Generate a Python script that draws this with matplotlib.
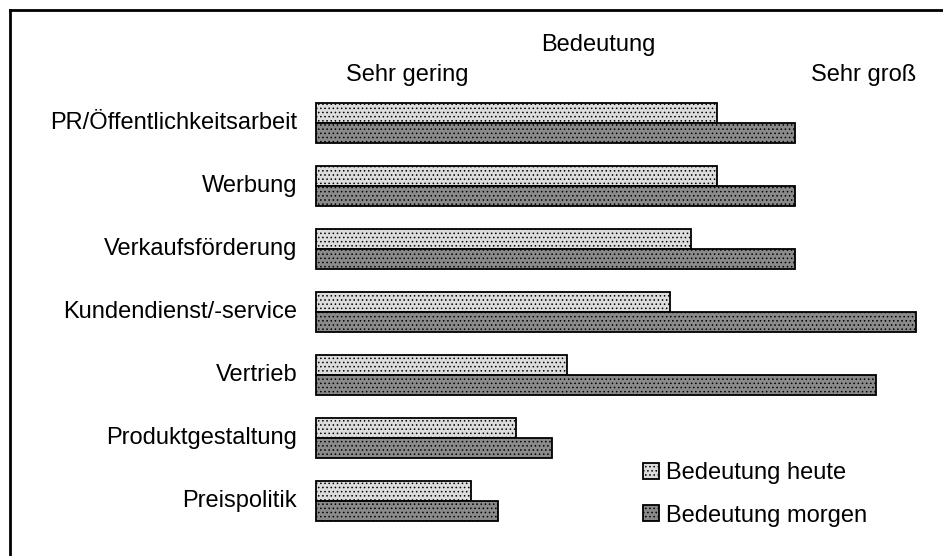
import matplotlib
matplotlib.use("Agg")
import matplotlib.pyplot as plt
import numpy as np
from matplotlib.lines import Line2D
from matplotlib.transforms import ScaledTranslation

plt.rcParams['font.family'] = ['Liberation Sans', 'DejaVu Sans']
plt.rcParams['hatch.color'] = '#a8a8a8'
plt.rcParams['hatch.linewidth'] = 0.6

categories = ["PR/Öffentlichkeitsarbeit", "Werbung", "Verkaufsförderung",
              "Kundendienst/-service", "Vertrieb", "Produktgestaltung", "Preispolitik"]
heute = [3.67, 3.67, 3.50, 3.36, 2.67, 2.33, 2.03]
morgen = [4.19, 4.19, 4.19, 5.00, 4.73, 2.57, 2.21]
series_labels = ["Bedeutung heute", "Bedeutung morgen"]
scale_min, scale_max = 1, 5

FS = 17
W, H = 943, 556
fig = plt.figure(figsize=(W / 100, H / 100), dpi=100)

left_px, right_px = 316, 916
top_px, bot_px = 91.5, 532.5
ax = fig.add_axes([left_px / W, 1 - bot_px / H, (right_px - left_px) / W, (bot_px - top_px) / H])

y = np.arange(len(categories))
bh = 0.325
base = scale_min
ax.barh(y - bh / 2, np.array(heute) - base, left=base, height=bh,
        color="#dcdcdc", edgecolor="black", linewidth=1.3, hatch="....", label=series_labels[0])
ax.barh(y + bh / 2, np.array(morgen) - base, left=base, height=bh,
        color="#8a8a8a", edgecolor="black", linewidth=1.3, hatch="....", label=series_labels[1])

ax.set_xlim(scale_min, scale_max)
ax.set_ylim(len(categories) - 0.5, -0.5)
ax.set_yticks(y)
ax.set_yticklabels(categories, fontsize=FS)
ax.set_xticks([])
ax.tick_params(axis='y', length=0, pad=13.5)
for lab in ax.get_yticklabels():
    lab.set_transform(lab.get_transform() + ScaledTranslation(0, 3 / 100, fig.dpi_scale_trans))
for s in ax.spines.values():
    s.set_visible(False)
for b in ax.patches:
    b.set_clip_on(False)

fig.text(598 / W, 1 - 45 / H, "Bedeutung", fontsize=FS, ha="center", va="center")
fig.text(407 / W, 1 - 75 / H, "Sehr gering", fontsize=FS, ha="center", va="center")
fig.text(864 / W, 1 - 75 / H, "Sehr groß", fontsize=FS, ha="center", va="center")

leg = ax.legend(loc="upper left", bbox_to_anchor=((634 - left_px) / (right_px - left_px),
                (bot_px - 453) / (bot_px - top_px)),
                frameon=False, fontsize=FS, handlelength=0.65, handleheight=0.65,
                handletextpad=0.3, labelspacing=0.85, borderaxespad=0)

fig.add_artist(Line2D([9.5 / W, 9.5 / W], [0, 1 - 10 / H], transform=fig.transFigure, color="black", lw=2))
fig.add_artist(Line2D([9.5 / W, 1], [1 - 10 / H, 1 - 10 / H], transform=fig.transFigure, color="black", lw=2))

fig.savefig("out.png", dpi=100)
